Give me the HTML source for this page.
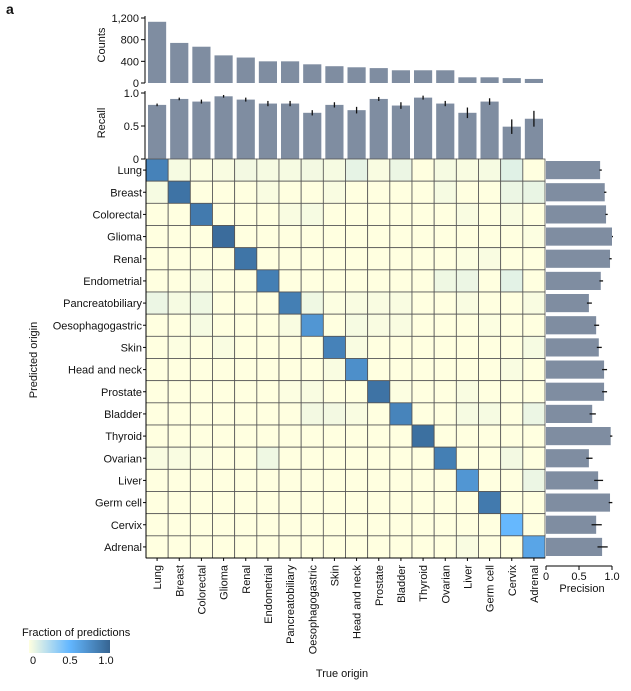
<!DOCTYPE html>
<html><head><meta charset="utf-8"><style>
body{margin:0;background:#fff;}
svg text{font-family:"Liberation Sans",sans-serif;fill:#111;}
</style></head><body>
<svg id="c" width="631" height="686" xmlns="http://www.w3.org/2000/svg"></svg>
<script>
const categories=["Lung","Breast","Colorectal","Glioma","Renal","Endometrial","Pancreatobiliary","Oesophagogastric","Skin","Head and neck","Prostate","Bladder","Thyroid","Ovarian","Liver","Germ cell","Cervix","Adrenal"];
const counts=[1130,740,670,510,470,400,400,345,310,290,275,235,235,235,105,105,90,75];
const recall=[0.82,0.91,0.87,0.95,0.90,0.84,0.84,0.70,0.82,0.74,0.91,0.81,0.93,0.84,0.70,0.87,0.49,0.61];
const recallErr=[0.02,0.02,0.03,0.02,0.03,0.04,0.04,0.04,0.04,0.05,0.03,0.05,0.03,0.04,0.08,0.05,0.11,0.12];
const precision=[0.82,0.89,0.91,1.0,0.97,0.83,0.65,0.76,0.80,0.88,0.88,0.70,0.98,0.65,0.79,0.97,0.76,0.85];
const precisionErr=[0.01,0.01,0.01,0.0,0.01,0.02,0.03,0.03,0.03,0.03,0.03,0.04,0.01,0.04,0.06,0.02,0.07,0.07];
const countTicks=[0,400,800,1200];
const countTickLabels=["0","400","800","1,200"];
const recallTicks=[0,0.5,1.0];
const recallTickLabels=["0","0.5","1.0"];
const precTicks=[0,0.5,1.0];
const precTickLabels=["0","0.5","1.0"];
// off-diagonal fractions: [predictedRow, trueCol, value]
const offDiag=[
[0,1,.03],[0,2,.01],[0,3,.02],[0,4,.04],[0,5,.03],[0,6,.03],[0,7,.04],[0,8,.03],[0,9,.08],[0,10,.02],[0,11,.06],[0,13,.03],[0,14,.02],[0,15,.03],[0,16,.1],
[1,0,.03],[1,5,.02],[1,8,.02],[1,13,.03],[1,16,.06],[1,17,.07],
[2,6,.02],[2,7,.03],[2,14,.02],[2,16,.02],
[3,17,.01],[4,14,.01],[4,15,.02],
[5,2,.02],[5,13,.05],[5,14,.06],[5,16,.09],
[6,0,.06],[6,1,.03],[6,2,.05],[6,7,.05],[6,8,.01],[6,9,.02],[6,10,.02],[6,11,.02],[6,14,.02],[6,17,.02],
[7,2,.03],[7,6,.02],[7,9,.03],[7,10,.02],[7,11,.02],[7,15,.01],
[8,1,.01],[8,3,.02],[8,9,.02],[8,17,.03],
[9,8,.02],[9,16,.02],
[10,6,.01],[10,7,.02],[10,11,.01],[10,14,.02],
[11,7,.04],[11,8,.04],[11,9,.02],[11,14,.03],[11,15,.03],[11,17,.06],
[13,0,.02],[13,1,.02],[13,2,.01],[13,5,.05],[13,16,.04],
[14,17,.06],[17,14,.02]];

const NS="http://www.w3.org/2000/svg";
const svg=document.getElementById('c');
function el(t,a,p){const e=document.createElementNS(NS,t);for(const k in a)e.setAttribute(k,a[k]);(p||svg).appendChild(e);return e;}
const n=categories.length;
const X0=146,X1=545,cw=(X1-X0)/n;
const Y0=159,Y1=558,rh=(Y1-Y0)/n;
const xc=i=>X0+cw*i;
const yCount=v=>83-v*(65/1200);
const yRec=v=>159-v*66;
const xPrec=v=>546+v*66;
const BAR="#7f8da1";
function col(v){
  const s=[[255,255,224],[99,183,255],[54,100,145]];
  let a,b,t;if(v<=0.5){a=s[0];b=s[1];t=v/0.5;}else{a=s[1];b=s[2];t=(v-0.5)/0.5;}
  return `rgb(${a.map((c,i)=>Math.round(c+(b[i]-c)*t)).join(',')})`;
}
function txt(x,y,s,o){const e=el('text',Object.assign({x:x,y:y,'font-size':11},o||{}));e.textContent=s;return e;}

// panel label
let t=txt(6,14,"a",{'font-weight':'bold','font-size':14});



// counts panel
el('line',{x1:145,y1:yCount(1200)-2,x2:145,y2:83,stroke:'#000'});
countTicks.forEach((v,i)=>{
  el('line',{x1:141,x2:145,y1:yCount(v),y2:yCount(v),stroke:'#000'});
  const tt=txt(139,yCount(v)+4,countTickLabels[i],{'text-anchor':'end'});
  
  
});
t=txt(105,45,"Counts",{'text-anchor':'middle',transform:'rotate(-90 105 45)'});


counts.forEach((v,i)=>{
  const r=el('rect',{x:xc(i)+2,y:yCount(v),width:cw-4,height:83-yCount(v),fill:BAR});
  
  
});

// recall panel
el('line',{x1:145,y1:yRec(1)-2,x2:145,y2:159,stroke:'#000'});
recallTicks.forEach((v,i)=>{
  el('line',{x1:141,x2:145,y1:yRec(v),y2:yRec(v),stroke:'#000'});
  const tt=txt(139,yRec(v)+4,recallTickLabels[i],{'text-anchor':'end'});
  
  
});
t=txt(105,123,"Recall",{'text-anchor':'middle',transform:'rotate(-90 105 123)'});


recall.forEach((v,i)=>{
  const r=el('rect',{x:xc(i)+2,y:yRec(v),width:cw-4,height:159-yRec(v),fill:BAR});
  
  
  const e=el('line',{x1:xc(i)+cw/2,x2:xc(i)+cw/2,y1:yRec(v-recallErr[i]),y2:yRec(v+recallErr[i]),stroke:'#111','stroke-width':1.3});
  
  
});

// heatmap
const M=[];for(let r=0;r<n;r++){M.push(new Array(n).fill(0));M[r][r]=recall[r];}
offDiag.forEach(([r,c,v])=>{M[r][c]=v;});
for(let r=0;r<n;r++)for(let c=0;c<n;c++){
  const cell=el('rect',{x:xc(c),y:Y0+rh*r,width:cw,height:rh,fill:col(M[r][c]),stroke:'#555','stroke-width':0.8});
  
  
}
categories.forEach((s,i)=>{
  const a=txt(142,Y0+rh*i+rh/2+4,s,{'text-anchor':'end'});
  
  
  el('line',{x1:143,x2:146,y1:Y0+rh*i+rh/2,y2:Y0+rh*i+rh/2,stroke:'#000'});
  const xx=xc(i)+cw/2+4;
  const b=txt(xx,565,s,{'text-anchor':'end',transform:`rotate(-90 ${xx} 565)`});
  
  
  el('line',{x1:xc(i)+cw/2,x2:xc(i)+cw/2,y1:558,y2:561,stroke:'#000'});
});
el('line',{x1:X0,x2:X0,y1:Y0,y2:Y1,stroke:'#000'});
el('line',{x1:X0,x2:X1,y1:Y1,y2:Y1,stroke:'#000'});
t=txt(37,360,"Predicted origin",{'text-anchor':'middle',transform:'rotate(-90 37 360)'});


t=txt(342,677,"True origin",{'text-anchor':'middle'});



// precision bars
precision.forEach((v,i)=>{
  const y=Y0+rh*i;
  const r=el('rect',{x:546,y:y+2,width:xPrec(v)-546,height:rh-4,fill:BAR});
  
  
  const e=el('line',{x1:xPrec(v-precisionErr[i]),x2:xPrec(v+precisionErr[i])+1,y1:y+rh/2,y2:y+rh/2,stroke:'#111','stroke-width':1.3});
  
  
});
el('line',{x1:546,x2:xPrec(1),y1:566,y2:566,stroke:'#000'});
precTicks.forEach((v,i)=>{
  el('line',{x1:xPrec(v),x2:xPrec(v),y1:566,y2:570,stroke:'#000'});
  const tt=txt(xPrec(v),580,precTickLabels[i],{'text-anchor':'middle'});
  
  
});
t=txt(582,592,"Precision",{'text-anchor':'middle'});



// legend
const defs=el('defs',{});
const g=el('linearGradient',{id:'lg',x1:0,x2:1,y1:0,y2:0},defs);
[0,0.25,0.5,0.75,1].forEach(v=>el('stop',{offset:v,'stop-color':col(v)},g));
t=txt(22,636,"Fraction of predictions",{});


const lb=el('rect',{x:29,y:640,width:81,height:13,fill:'url(#lg)'});


[["0",33],["0.5",70],["1.0",106]].forEach(([s,x])=>{
  const tt=txt(x,664,s,{'text-anchor':'middle'});
  
  
});
</script>
</body></html>
